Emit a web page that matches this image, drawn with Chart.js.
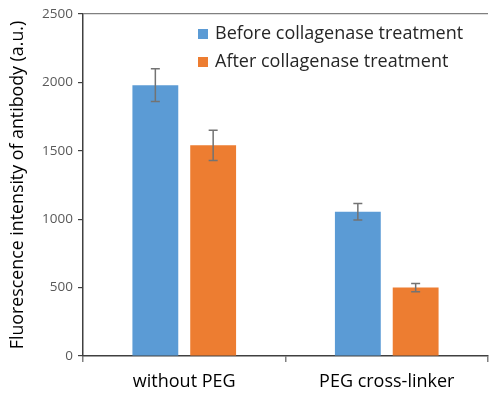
<!DOCTYPE html>
<html>
<head>
<meta charset="utf-8">
<script src="https://cdn.jsdelivr.net/npm/chart.js@4.4.1/dist/chart.umd.min.js"></script>
<style>
  html, body { margin: 0; padding: 0; background: #ffffff; }
  #wrap { width: 489px; height: 394px; }
</style>
</head>
<body>
<div id="wrap"><canvas id="c" width="489" height="394"></canvas></div>
<script>
const categories = ['without PEG', 'PEG cross-linker'];
const seriesNames = ['Before collagenase treatment', 'After collagenase treatment'];
const beforeValues = [1980, 1055];
const afterValues = [1540, 500];
const beforeErrors = [120, 60];
const afterErrors = [110, 30];
const yTicks = [0, 500, 1000, 1500, 2000, 2500];

const FONT = "'Open Sans', 'Liberation Sans', sans-serif";

// Symmetric error bars drawn from each dataset's `errors` array
const errorBars = {
  id: 'errorBars',
  afterDatasetsDraw(chart) {
    const ctx = chart.ctx;
    const y = chart.scales.y;
    ctx.save();
    ctx.strokeStyle = '#737373';
    ctx.lineWidth = 1.5;
    chart.data.datasets.forEach((ds, di) => {
      const meta = chart.getDatasetMeta(di);
      meta.data.forEach((bar, i) => {
        const v = ds.data[i], e = ds.errors[i];
        const x = bar.x;
        const top = y.getPixelForValue(v + e);
        const bot = y.getPixelForValue(v - e);
        ctx.beginPath();
        ctx.moveTo(x, top); ctx.lineTo(x, bot);
        ctx.moveTo(x - 4.5, top); ctx.lineTo(x + 4.5, top);
        ctx.moveTo(x - 4.5, bot); ctx.lineTo(x + 4.5, bot);
        ctx.stroke();
      });
    });
    ctx.restore();
  }
};

// Legend placed inside the plot area, upper right
const innerLegend = {
  id: 'innerLegend',
  afterDraw(chart) {
    const ctx = chart.ctx;
    ctx.save();
    ctx.font = '18px ' + FONT;
    ctx.textBaseline = 'middle';
    ctx.textAlign = 'left';
    chart.data.datasets.forEach((ds, i) => {
      const yy = 34 + i * 28;
      ctx.fillStyle = ds.backgroundColor;
      ctx.fillRect(198, yy - 5, 10, 10);
      ctx.fillStyle = '#262626';
      ctx.fillText(ds.label, 215, yy);
    });
    ctx.restore();
  }
};

new Chart(document.getElementById('c'), {
  type: 'bar',
  data: {
    labels: categories,
    datasets: [
      { label: seriesNames[0], data: beforeValues, errors: beforeErrors, backgroundColor: '#5b9bd5' },
      { label: seriesNames[1], data: afterValues, errors: afterErrors, backgroundColor: '#ed7d31' }
    ]
  },
  options: {
    responsive: false,
    animation: false,
    devicePixelRatio: 1,
    layout: { padding: { top: 14, right: 1, left: 0, bottom: 0 } },
    datasets: { bar: { categoryPercentage: 0.571, barPercentage: 0.793 } },
    plugins: { legend: { display: false }, tooltip: { enabled: false } },
    scales: {
      x: {
        offset: true,
        grid: {
          offset: true,
          drawOnChartArea: false,
          tickLength: 6,
          color: c => c.index === 2 ? 'rgba(0,0,0,0)' : '#808080',
          lineWidth: 1.5
        },
        border: { color: '#404040', width: 1.5 },
        ticks: { color: '#000', font: { family: FONT, size: 18 }, padding: 9 },
        afterFit(s) { s.height = 38; }
      },
      y: {
        min: 0,
        max: 2500,
        afterBuildTicks(s) { s.ticks = yTicks.map(v => ({ value: v })); },
        grid: {
          color: c => (c.tick && c.tick.value === 2500) ? '#808080' : 'rgba(0,0,0,0)',
          tickColor: '#404040',
          tickLength: 5,
          lineWidth: 1.2
        },
        border: { color: '#404040', width: 1.5 },
        ticks: {
          color: '#595959',
          font: { family: FONT, size: 13.5 },
          padding: 5,
          callback: v => String(v)
        },
        title: {
          display: true,
          text: 'Fluorescence intensity of antibody (a.u.)',
          color: '#000',
          font: { family: FONT, size: 17.8 },
          padding: { top: 7, bottom: 3 }
        },
        afterFit(s) { s.width = 83; }
      }
    }
  },
  plugins: [errorBars, innerLegend]
});
</script>
</body>
</html>
